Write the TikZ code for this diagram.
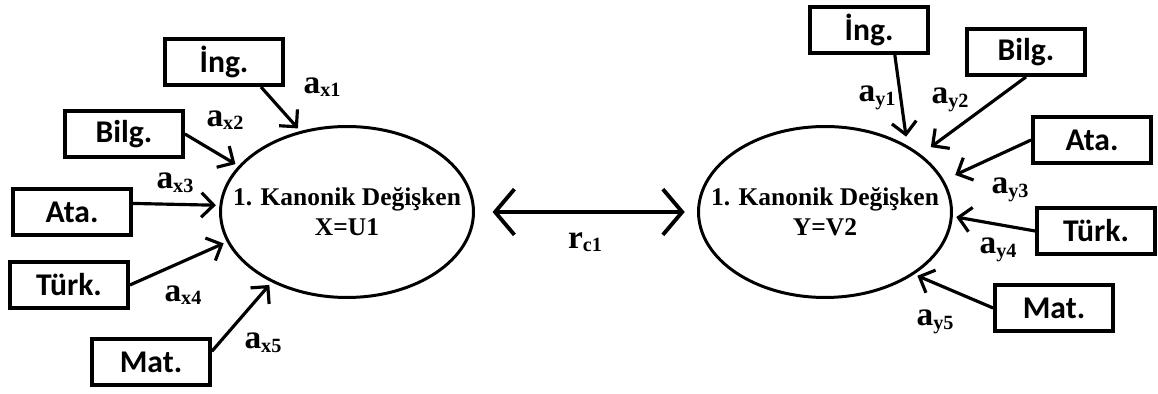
\documentclass[tikz,border=0pt]{standalone}
\usepackage{fontspec}
\setmainfont{Liberation Serif}
\newfontfamily\boxfont{Carlito}
\usetikzlibrary{shapes.geometric, arrows.meta}

\newcommand{\coef}[2]{#1\raisebox{-2pt}{\fontsize{11.5pt}{12pt}\selectfont #2}}

\tikzset{
  varbox/.style={draw, line width=2.2pt, minimum width=2.36cm, minimum height=0.92cm,
    inner sep=0pt, font=\boxfont\bfseries\fontsize{18pt}{20pt}\selectfont},
  canvar/.style={draw, ellipse, line width=1.7pt, minimum width=5.06cm, minimum height=3.42cm,
    inner xsep=-0.55cm, inner ysep=0pt, align=center, font=\bfseries\fontsize{14.5pt}{17pt}\selectfont},
  loading/.style={-{Straight Barb[length=7pt, width=14pt]}, line width=1.8pt, shorten >=2pt},
  coeflabel/.style={font=\bfseries\fontsize{19pt}{20pt}\selectfont, inner sep=0pt},
}

\begin{document}
\begin{tikzpicture}[x=0.02cm, y=-0.02cm]
    \useasboundingbox (0,0) rectangle (1158,394);

    % canonical variates
    \node[canvar] (u1) at (347,212) {1. Kanonik Değişken\\X=U1};
    \node[canvar] (v2) at (825,212) {1. Kanonik Değişken\\Y=V2};
    \draw[{Straight Barb[length=11pt, width=26pt]}-{Straight Barb[length=11pt, width=26pt]},
        line width=2.2pt, shorten <=10pt, shorten >=7pt] (u1.east) -- (v2.west);
    \node[coeflabel] (rc) at (585,242) {\coef{r}{c1}};

    % X set
    \node[varbox] (ing1) at (224,62) {İng.};
    \node[varbox] (bilg1) at (124,134) {Bilg.};
    \node[varbox] (ata1) at (72,212) {Ata.};
    \node[varbox] (turk1) at (69,285) {Türk.};
    \node[varbox] (mat1) at (151,362) {Mat.};

    \draw[loading] (ing1.-34) -- (u1.120);
    \draw[loading] (bilg1.east) -- (u1.157);
    \draw[loading] (ata1.8) -- (u1.177);
    \draw[loading] (turk1.east) -- (u1.194);
    \draw[loading] (mat1.10) -- (u1.223);

    \node[coeflabel] (ax1) at (322,87) {\coef{a}{x1}};
    \node[coeflabel] (ax2) at (225,120) {\coef{a}{x2}};
    \node[coeflabel] (ax3) at (175,183) {\coef{a}{x3}};
    \node[coeflabel] (ax4) at (183,295) {\coef{a}{x4}};
    \node[coeflabel] (ax5) at (263,343) {\coef{a}{x5}};

    % Y set
    \node[varbox] (ing2) at (869,30) {İng.};
    \node[varbox] (bilg2) at (1026,52) {Bilg.};
    \node[varbox] (ata2) at (1092,140) {Ata.};
    \node[varbox] (turk2) at (1096,231) {Türk.};
    \node[varbox] (mat2) at (1054,308) {Mat.};

    \draw[loading, shorten >=5pt] (ing2.-44) -- (v2.39);
    \draw[loading, shorten >=7pt] (bilg2.south) -- (v2.31);
    \draw[loading, shorten >=7pt] (ata2.west) -- (v2.15);
    \draw[loading] (turk2.west) -- (v2.358);
    \draw[loading] (mat2.west) -- (v2.325);

    \node[coeflabel] (ay1) at (877,98) {\coef{a}{y1}};
    \node[coeflabel] (ay2) at (950,100) {\coef{a}{y2}};
    \node[coeflabel] (ay3) at (1010,190) {\coef{a}{y3}};
    \node[coeflabel] (ay4) at (998,250) {\coef{a}{y4}};
    \node[coeflabel] (ay5) at (935,322) {\coef{a}{y5}};
\end{tikzpicture}
\end{document}
